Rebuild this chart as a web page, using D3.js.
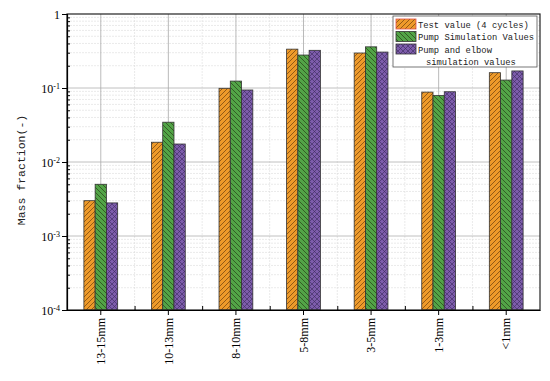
<!DOCTYPE html>
<html lang="en">
<head>
    <meta charset="UTF-8">
    <title>Mass fraction chart</title>
    <script src="https://d3js.org/d3.v7.min.js"></script>
    <style>
        body { margin: 0; padding: 0; background: #fff; }
        svg { display: block; }
        .tick text { font-family: 'Liberation Serif', serif; font-size: 12px; fill: #000; }
        .legend text { font-family: 'Liberation Mono', monospace; font-size: 8.8px; fill: #222; }
        .ylabel { font-family: 'Liberation Mono', monospace; font-size: 11.5px; fill: #222; }
    </style>
</head>
<body>
<script>
    // data
    const categories = ["13-15mm", "10-13mm", "8-10mm", "5-8mm", "3-5mm", "1-3mm", "<1mm"];
    const seriesNames = ["Test value (4 cycles)", "Pump Simulation Values", "Pump and elbow simulation values"];
    const testValues = [0.0030, 0.0185, 0.099, 0.335, 0.297, 0.088, 0.161];
    const pumpValues = [0.0050, 0.0345, 0.124, 0.279, 0.360, 0.079, 0.128];
    const elbowValues = [0.0028, 0.0175, 0.094, 0.323, 0.306, 0.089, 0.170];
    const yTicks = [1e-4, 1e-3, 1e-2, 1e-1, 1];
    const yTickLabels = ["10", "10", "10", "10", "1"];
    const yTickExp = ["-4", "-3", "-2", "-1", ""];

    const allSeries = [testValues, pumpValues, elbowValues];

    const width = 550, height = 381;
    const margin = { top: 14, right: 10, bottom: 71, left: 67 };

    const svg = d3.select("body").append("svg")
        .attr("width", width)
        .attr("height", height);

    const defs = svg.append("defs");

    // hatch patterns
    const p1 = defs.append("pattern").attr("id", "hatch0")
        .attr("patternUnits", "userSpaceOnUse").attr("width", 5).attr("height", 5);
    p1.append("rect").attr("width", 5).attr("height", 5).attr("fill", "#EE9A2A");
    p1.append("path").attr("d", "M-1,1 l2,-2 M0,5 l5,-5 M4,6 l2,-2")
        .attr("stroke", "#7a4a10").attr("stroke-width", 0.8);

    const p2 = defs.append("pattern").attr("id", "hatch1")
        .attr("patternUnits", "userSpaceOnUse").attr("width", 5).attr("height", 5);
    p2.append("rect").attr("width", 5).attr("height", 5).attr("fill", "#52A447");
    p2.append("path").attr("d", "M-1,4 l2,2 M0,0 l5,5 M4,-1 l2,2")
        .attr("stroke", "#2c4a1c").attr("stroke-width", 0.8);

    const p3 = defs.append("pattern").attr("id", "hatch2")
        .attr("patternUnits", "userSpaceOnUse").attr("width", 5).attr("height", 5);
    p3.append("rect").attr("width", 5).attr("height", 5).attr("fill", "#7D5CAB");
    p3.append("path").attr("d", "M-1,4 l2,2 M0,0 l5,5 M4,-1 l2,2 M-1,1 l2,-2 M0,5 l5,-5 M4,6 l2,-2")
        .attr("stroke", "#3a2a5a").attr("stroke-width", 0.6);

    const g = svg.append("g").attr("transform", `translate(${margin.left},${margin.top})`);
    const w = width - margin.left - margin.right;
    const h = height - margin.top - margin.bottom;

    const x = d3.scaleBand().domain(categories).range([0, w]).padding(0);
    const xs = d3.scaleBand().domain(d3.range(3)).range([0, x.bandwidth() * 0.5]);
    const y = d3.scaleLog().domain([1e-4, 1]).range([h, 0]);

    // minor grid
    const minors = [];
    for (let e = -4; e < 0; e++) for (let m = 2; m <= 9; m++) minors.push(m * Math.pow(10, e));
    g.selectAll(".mgrid").data(minors).enter().append("line")
        .attr("x1", 0).attr("x2", w)
        .attr("y1", d => y(d)).attr("y2", d => y(d))
        .attr("stroke", "#dcdcdc").attr("stroke-width", 0.6).attr("stroke-dasharray", "2,1");
    g.selectAll(".vmgrid").data(categories.slice(1)).enter().append("line")
        .attr("x1", d => x(d)).attr("x2", d => x(d))
        .attr("y1", 0).attr("y2", h)
        .attr("stroke", "#dcdcdc").attr("stroke-width", 0.6).attr("stroke-dasharray", "2,1");

    // major grid
    g.selectAll(".grid").data(yTicks.slice(1, -1)).enter().append("line")
        .attr("x1", 0).attr("x2", w)
        .attr("y1", d => y(d)).attr("y2", d => y(d))
        .attr("stroke", "#b0b0b0").attr("stroke-width", 0.8);
    g.selectAll(".vgrid").data(categories).enter().append("line")
        .attr("x1", d => x(d) + x.bandwidth() / 2).attr("x2", d => x(d) + x.bandwidth() / 2)
        .attr("y1", 0).attr("y2", h)
        .attr("stroke", "#a8a8a8").attr("stroke-width", 0.8);

    // bars
    allSeries.forEach((vals, si) => {
        g.selectAll(".bar" + si).data(categories).enter().append("rect")
            .attr("x", (d, i) => x(d) + x.bandwidth() * 0.25 + xs(si))
            .attr("width", xs.bandwidth())
            .attr("y", (d, i) => y(vals[i]))
            .attr("height", (d, i) => h - y(vals[i]))
            .attr("fill", `url(#hatch${si})`)
            .attr("stroke", "#333").attr("stroke-width", 0.8);
    });

    // frame
    g.append("rect").attr("width", w).attr("height", h)
        .attr("fill", "none").attr("stroke", "#222").attr("stroke-width", 1.2);

    // y axis
    const yAxis = g.append("g")
        .call(d3.axisLeft(y).tickValues(yTicks).tickSize(5).tickFormat(""));
    yAxis.select(".domain").attr("stroke-width", 1.2);
    yAxis.selectAll(".tick text").remove();
    yAxis.selectAll(".tick").append("text")
        .attr("x", -7).attr("dy", "0.35em").attr("text-anchor", "end")
        .each(function(d, i) {
            const t = d3.select(this);
            t.append("tspan").text(yTickLabels[i]);
            if (yTickExp[i]) t.append("tspan").attr("dy", "-0.45em").style("font-size", "8px").text(yTickExp[i]);
        });
    g.append("g").call(d3.axisRight(y).tickValues(minors).tickSize(3).tickFormat(""))
        .call(a => a.select(".domain").remove());

    // x axis
    const xAxis = g.append("g").attr("transform", `translate(0,${h})`)
        .call(d3.axisBottom(x).tickSize(5).tickSizeOuter(0));
    xAxis.select(".domain").attr("stroke-width", 1.2);
    xAxis.selectAll(".tick text")
        .attr("transform", "rotate(-90)")
        .attr("x", -8).attr("y", 0).attr("dy", "0.35em")
        .style("text-anchor", "end");
    g.append("g").attr("transform", `translate(0,${h})`)
        .call(d3.axisTop(d3.scaleLinear().domain([0, categories.length]).range([0, w]))
            .tickValues(d3.range(1, categories.length)).tickSize(4).tickFormat(""))
        .call(a => a.select(".domain").remove());

    // y label
    svg.append("text").attr("class", "ylabel")
        .attr("transform", `translate(25,170) rotate(-90)`)
        .attr("text-anchor", "middle")
        .text("Mass fraction(-)");

    // legend
    const legend = svg.append("g").attr("class", "legend").attr("transform", "translate(393,16)");
    legend.append("rect").attr("width", 144).attr("height", 51)
        .attr("fill", "#fff").attr("stroke", "#555").attr("stroke-width", 0.8);
    seriesNames.forEach((name, i) => {
        legend.append("rect").attr("x", 3).attr("y", 3 + i * 12.5)
            .attr("width", 20).attr("height", 10)
            .attr("fill", `url(#hatch${i})`).attr("stroke", i === 0 ? "#e05050" : "#333").attr("stroke-width", 0.8);
    });
    legend.append("text").attr("x", 25).attr("y", 11.5).text(seriesNames[0]);
    legend.append("text").attr("x", 25).attr("y", 24).text(seriesNames[1]);
    legend.append("text").attr("x", 25).attr("y", 36.5).text("Pump and elbow");
    legend.append("text").attr("x", 33).attr("y", 49).text("simulation values");
</script>
</body>
</html>
